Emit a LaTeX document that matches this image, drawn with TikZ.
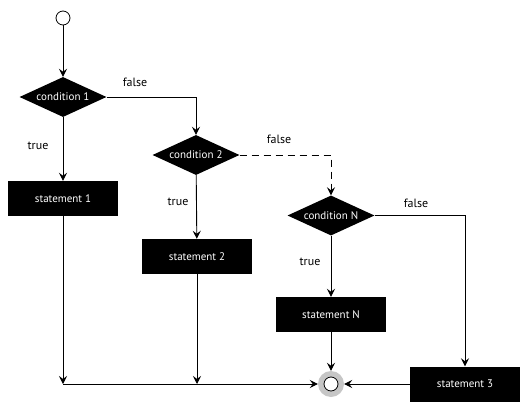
\documentclass[tikz,border=0pt]{standalone}
\usepackage{fontspec}
\setmainfont{PT Sans}
\usetikzlibrary{shapes.geometric, arrows.meta}
\begin{document}
\begin{tikzpicture}[x=1pt, y=-1pt,
        decision/.style={diamond, fill=black, text=white, aspect=2.2, inner sep=0pt, minimum width=87pt, minimum height=40pt, font=\fontsize{11}{12}\selectfont},
        process/.style={rectangle, fill=black, text=white, minimum width=110pt, minimum height=35pt, font=\fontsize{11}{12}\selectfont},
        txt/.style={font=\fontsize{12}{13}\selectfont},
        line/.style={draw, line width=0.9pt, ->, >={Stealth[length=8pt, width=8pt, inset=3pt]}}
    ]
        \useasboundingbox (0,0) rectangle (530,412);

        \node[circle, draw, line width=0.8pt, minimum size=14pt, inner sep=0pt] (start) at (63, 18) {};
        \node[decision] (c1) at (63, 97) {condition 1};
        \node[decision] (c2) at (196, 155) {condition 2};
        \node[decision] (cn) at (331, 215.5) {condition N};

        \node[process] (s1) at (63, 198.5) {statement 1};
        \node[process] (s2) at (197, 256.5) {statement 2};
        \node[process] (sn) at (331, 314.5) {statement N};
        \node[process] (s3) at (465, 384) {statement 3};

        \node[circle, fill=gray!45, minimum size=26pt, inner sep=0pt] (stop) at (331, 384) {};
        \node[circle, draw, line width=0.8pt, fill=white, minimum size=14pt, inner sep=0pt] (stopin) at (stop) {};

        \node[txt] (f1) at (135, 82) {false};
        \node[txt] (t1) at (38, 146) {true};
        \node[txt] (f2) at (279, 139) {false};
        \node[txt] (t2) at (178, 202) {true};
        \node[txt] (fn) at (416, 203) {false};
        \node[txt] (tn) at (310, 262) {true};

        \coordinate (j1) at (63, 384);
        \coordinate (j2) at (197, 384);

        \draw[line] (start) -- (c1);
        \draw[line] (c1) -- (s1);
        \draw[line] (c1) -| (c2);
        \draw[line] (c2) -- (s2);
        \draw[line, dash pattern=on 7pt off 5pt] (c2) -| (cn);
        \draw[line] (cn) -- (sn);
        \draw[line] (cn) -| (s3);

        \draw[line] (s1) -- (j1);
        \draw[line] (s2) -- (j2);
        \draw[line] (j1) -- (stop);
        \draw[line] (sn) -- (stop);
        \draw[line] (s3) -- (stop);
    \end{tikzpicture}
\end{document}
